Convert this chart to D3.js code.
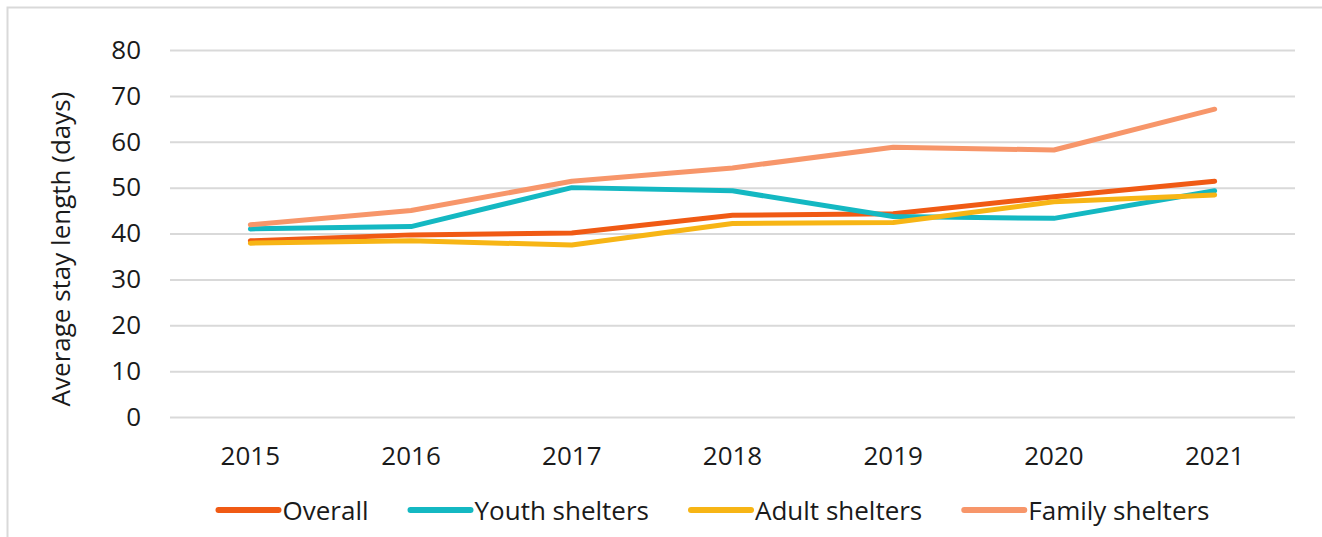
<!DOCTYPE html>
<html>
<head>
<meta charset="utf-8">
<script src="https://cdn.jsdelivr.net/npm/d3@7"></script>
<style>
  html, body { margin: 0; padding: 0; background: #fff; }
  svg { display: block; }
  text { font-family: "Open Sans", "Noto Sans", sans-serif; fill: #1a1a1a; }
</style>
</head>
<body>
<svg id="chart" width="1322" height="537"></svg>
<script>
// Average length of stay by shelter type, 2015-2021
const years = ["2015", "2016", "2017", "2018", "2019", "2020", "2021"];
const overall = [38.4, 39.7, 40.1, 44.0, 44.3, 48.0, 51.4];
const youth   = [41.0, 41.5, 50.0, 49.3, 43.7, 43.3, 49.3];
const adult   = [37.9, 38.4, 37.5, 42.2, 42.4, 46.9, 48.4];
const family  = [41.9, 45.0, 51.4, 54.3, 58.8, 58.2, 67.1];
const yTicks  = [0, 10, 20, 30, 40, 50, 60, 70, 80];
const seriesNames  = ["Overall", "Youth shelters", "Adult shelters", "Family shelters"];
const seriesColors = ["#f05a14", "#14b8c2", "#f7b515", "#f7966a"];

const series = [overall, youth, adult, family].map((values, i) => ({
  name: seriesNames[i], color: seriesColors[i], values
}));

const svg = d3.select("#chart");
const fontSize = 26;

// outer frame (left and top edges visible, others run off the canvas)
svg.append("rect")
  .attr("x", 7.5).attr("y", 7.5)
  .attr("width", 1340).attr("height", 560)
  .attr("fill", "none").attr("stroke", "#d9d9d9").attr("stroke-width", 2);

const plot = { left: 170, right: 1295, top: 50, bottom: 417 };

const x = d3.scaleBand().domain(years).range([plot.left, plot.right]);
const y = d3.scaleLinear().domain([0, 80]).range([plot.bottom, plot.top]);

// horizontal gridlines
const yAxis = d3.axisLeft(y).tickValues(yTicks).tickSize(-(plot.right - plot.left)).tickPadding(29);
const gy = svg.append("g").attr("transform", `translate(${plot.left},0)`).call(yAxis);
gy.select(".domain").remove();
gy.selectAll(".tick line").attr("stroke", "#d9d9d9").attr("stroke-width", 2);
gy.selectAll(".tick text")
  .style("font-size", fontSize + "px").attr("fill", "#1a1a1a")
  .attr("font-family", null);

// category axis labels
const xAxis = d3.axisBottom(x).tickSize(0).tickPadding(30);
const gx = svg.append("g").attr("transform", `translate(0,${plot.bottom})`).call(xAxis);
gx.select(".domain").remove();
gx.selectAll(".tick text")
  .style("font-size", fontSize + "px").attr("fill", "#1a1a1a")
  .attr("font-family", null);

// y-axis title
svg.append("text")
  .attr("transform", "translate(60,249) rotate(-90)")
  .attr("text-anchor", "middle").attr("dominant-baseline", "central")
  .style("font-size", fontSize + "px")
  .text("Average stay length (days)");

// series lines
const line = d3.line()
  .x((d, i) => x(years[i]) + x.bandwidth() / 2)
  .y(d => y(d));

svg.append("g").selectAll("path")
  .data(series)
  .join("path")
  .attr("d", d => line(d.values))
  .attr("fill", "none")
  .attr("stroke", d => d.color)
  .attr("stroke-width", 5)
  .attr("stroke-linejoin", "round")
  .attr("stroke-linecap", "round");

// legend
const legend = svg.append("g");
const swatch = 60, swatchGap = 4, itemGap = 42, legendY = 510, legendCenter = 714;
const items = legend.selectAll("g").data(series).join("g");
items.append("line")
  .attr("x1", 0).attr("x2", swatch).attr("y1", 0).attr("y2", 0)
  .attr("stroke", d => d.color).attr("stroke-width", 6).attr("stroke-linecap", "round");
items.append("text")
  .attr("x", swatch + swatchGap).attr("y", 0)
  .attr("dominant-baseline", "central")
  .style("font-size", fontSize + "px")
  .text(d => d.name);
let cursor = 0;
items.each(function () {
  const w = this.getBBox().width;
  d3.select(this).attr("data-x", cursor);
  cursor += w + itemGap;
});
const total = cursor - itemGap;
items.attr("transform", function () {
  return `translate(${legendCenter - total / 2 + +this.getAttribute("data-x")},${legendY})`;
});
</script>
</body>
</html>
